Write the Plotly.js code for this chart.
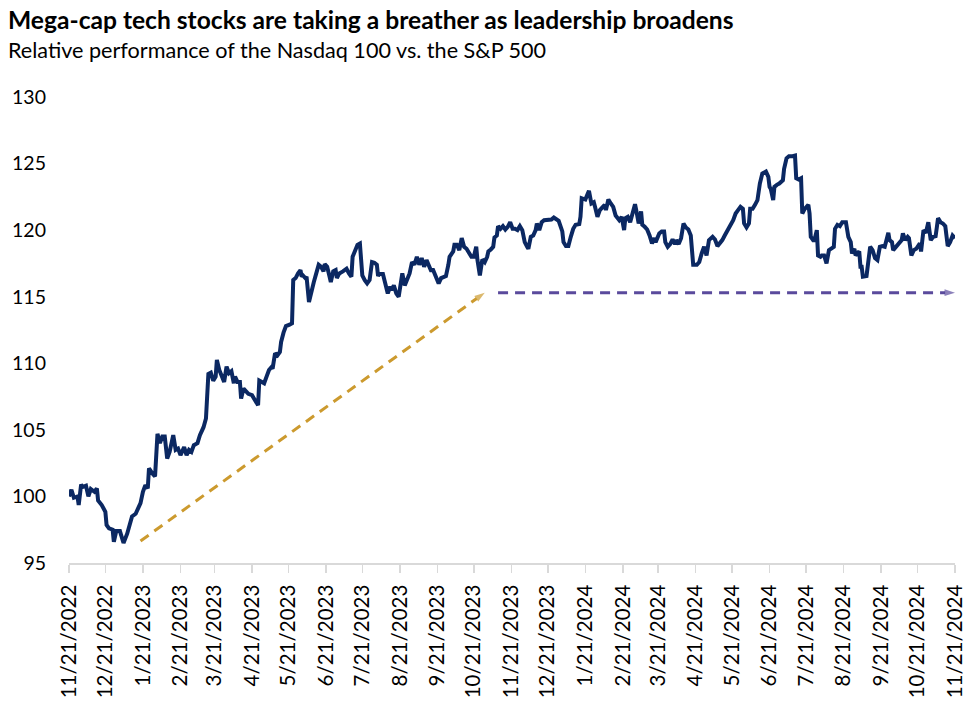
<!DOCTYPE html>
<html>
<head>
<meta charset="utf-8">
<script src="https://cdn.plot.ly/plotly-3.0.1.min.js"></script>
<style>
html,body{margin:0;padding:0;background:#fff;}
#chart{width:972px;height:703px;}
</style>
</head>
<body>
<div id="chart"></div>
<script>
// Relative performance series (Nasdaq 100 / S&P 500, indexed to 100 on 11/21/2022)
const dates = [
 '2022-11-21','2022-11-23','2022-11-25','2022-11-28','2022-11-29','2022-12-01','2022-12-02','2022-12-05','2022-12-07','2022-12-09','2022-12-12','2022-12-14','2022-12-15','2022-12-18',
 '2022-12-21','2022-12-22','2022-12-24','2022-12-27','2022-12-28','2022-12-30','2023-01-02','2023-01-03','2023-01-05','2023-01-08','2023-01-10','2023-01-12','2023-01-15','2023-01-17','2023-01-19',
 '2023-01-21','2023-01-23','2023-01-25','2023-01-26','2023-01-29','2023-01-31','2023-02-02','2023-02-04','2023-02-06','2023-02-08','2023-02-10','2023-02-12','2023-02-15','2023-02-17','2023-02-19',
 '2023-02-21','2023-02-24','2023-02-26','2023-02-28','2023-03-02','2023-03-04','2023-03-07','2023-03-09','2023-03-12','2023-03-14','2023-03-15','2023-03-16','2023-03-18','2023-03-20',
 '2023-03-22','2023-03-23','2023-03-25','2023-03-27','2023-03-29','2023-03-31','2023-04-02','2023-04-04','2023-04-06','2023-04-07','2023-04-09','2023-04-11','2023-04-12','2023-04-14','2023-04-16','2023-04-18',
 '2023-04-21','2023-04-23','2023-04-26','2023-04-27','2023-04-29','2023-05-01','2023-05-03','2023-05-05','2023-05-07','2023-05-08','2023-05-10','2023-05-12','2023-05-14','2023-05-15','2023-05-17','2023-05-19',
 '2023-05-22','2023-05-24','2023-05-25','2023-05-27','2023-05-29','2023-05-31','2023-06-01','2023-06-02','2023-06-04','2023-06-05','2023-06-07','2023-06-09','2023-06-11','2023-06-13','2023-06-15','2023-06-17','2023-06-19','2023-06-20',
 '2023-06-22','2023-06-24','2023-06-25','2023-06-27','2023-06-29','2023-06-30','2023-07-02','2023-07-05','2023-07-08','2023-07-10','2023-07-12','2023-07-13','2023-07-15','2023-07-17','2023-07-19','2023-07-20',
 '2023-07-21','2023-07-23','2023-07-25','2023-07-27','2023-07-29','2023-07-31','2023-08-02','2023-08-03','2023-08-04','2023-08-07','2023-08-09','2023-08-11','2023-08-13','2023-08-14','2023-08-16','2023-08-18','2023-08-20',
 '2023-08-22','2023-08-23','2023-08-25','2023-08-27','2023-08-29','2023-08-31','2023-09-02','2023-09-04','2023-09-06','2023-09-08','2023-09-10','2023-09-12','2023-09-14','2023-09-16','2023-09-17','2023-09-20',
 '2023-09-22','2023-09-24','2023-09-26','2023-09-28','2023-09-30','2023-10-01','2023-10-04','2023-10-05','2023-10-07','2023-10-09','2023-10-11','2023-10-13','2023-10-15','2023-10-17','2023-10-19',
 '2023-10-21','2023-10-23','2023-10-24','2023-10-26','2023-10-28','2023-10-30','2023-11-01','2023-11-02','2023-11-04','2023-11-06','2023-11-07','2023-11-09','2023-11-10','2023-11-12','2023-11-14','2023-11-16','2023-11-18','2023-11-20',
 '2023-11-22','2023-11-24','2023-11-26','2023-11-28','2023-11-30','2023-12-02','2023-12-04','2023-12-05','2023-12-07','2023-12-09','2023-12-11','2023-12-12','2023-12-14','2023-12-16','2023-12-18',
 '2023-12-21','2023-12-24','2023-12-26','2023-12-28','2023-12-30','2024-01-02','2024-01-03','2024-01-05','2024-01-07','2024-01-09','2024-01-11','2024-01-13','2024-01-16','2024-01-17','2024-01-18',
 '2024-01-21','2024-01-22','2024-01-24','2024-01-26','2024-01-28','2024-01-29','2024-01-31','2024-02-02','2024-02-04','2024-02-06','2024-02-07','2024-02-09','2024-02-11','2024-02-13','2024-02-15','2024-02-18','2024-02-20',
 '2024-02-22','2024-02-23','2024-02-25','2024-02-27','2024-02-29','2024-03-02','2024-03-03','2024-03-05','2024-03-07','2024-03-08','2024-03-10','2024-03-12','2024-03-14','2024-03-16','2024-03-18','2024-03-19',
 '2024-03-22','2024-03-24','2024-03-26','2024-03-27','2024-03-29','2024-03-31','2024-04-02','2024-04-04','2024-04-05','2024-04-07','2024-04-09','2024-04-11','2024-04-13','2024-04-15','2024-04-17','2024-04-18','2024-04-19',
 '2024-04-22','2024-04-24','2024-04-26','2024-04-28','2024-04-30','2024-05-02','2024-05-05','2024-05-07','2024-05-09','2024-05-11','2024-05-13','2024-05-15','2024-05-17','2024-05-19',
 '2024-05-22','2024-05-24','2024-05-26','2024-05-28','2024-05-30','2024-05-31','2024-06-02','2024-06-04','2024-06-05','2024-06-07','2024-06-09','2024-06-11','2024-06-13','2024-06-15','2024-06-18','2024-06-20',
 '2024-06-21','2024-06-22','2024-06-24','2024-06-25','2024-06-27','2024-06-29','2024-07-02','2024-07-03','2024-07-05','2024-07-07','2024-07-10','2024-07-12','2024-07-13','2024-07-15','2024-07-17','2024-07-18','2024-07-20',
 '2024-07-23','2024-07-24','2024-07-25','2024-07-27','2024-07-28','2024-07-30','2024-07-31','2024-08-02','2024-08-03','2024-08-05','2024-08-07','2024-08-09','2024-08-11','2024-08-13','2024-08-14','2024-08-16','2024-08-18','2024-08-20',
 '2024-08-23','2024-08-25','2024-08-27','2024-08-28','2024-08-30','2024-08-31','2024-09-03','2024-09-04','2024-09-05','2024-09-06','2024-09-09','2024-09-10','2024-09-12','2024-09-14','2024-09-16','2024-09-18','2024-09-20',
 '2024-09-22','2024-09-24','2024-09-25','2024-09-27','2024-09-28','2024-09-30','2024-10-01','2024-10-03','2024-10-06','2024-10-08','2024-10-09','2024-10-11','2024-10-13','2024-10-14','2024-10-16','2024-10-18','2024-10-20',
 '2024-10-23','2024-10-24','2024-10-25','2024-10-26','2024-10-28','2024-10-30','2024-10-31','2024-11-01','2024-11-03','2024-11-05','2024-11-06','2024-11-07','2024-11-09','2024-11-11','2024-11-13','2024-11-15','2024-11-17','2024-11-18','2024-11-19','2024-11-21'
];
const relPerf = [
 100.0,100.5,99.9,100.0,99.35,100.9,100.7,100.8,100.0,100.55,100.35,100.6,99.7,99.35,
 98.85,97.85,97.6,97.5,96.6,97.4,97.4,97.0,96.5,97.2,97.85,98.5,98.7,99.2,99.5,
 100.35,100.85,100.6,102.1,101.7,101.5,104.7,104.0,104.5,104.5,102.85,103.35,104.6,103.5,103.6,
 103.1,103.7,103.1,103.5,103.35,103.85,104.0,104.6,105.2,105.85,107.5,109.2,109.3,108.7,
 109.0,110.25,109.5,109.1,108.6,109.75,109.25,109.4,108.5,109.0,108.6,108.6,107.35,108.1,107.85,107.7,
 107.6,107.35,106.85,108.7,108.6,108.5,109.0,109.5,109.7,109.6,110.75,110.6,110.85,111.6,112.3,112.8,
 112.9,113.0,116.25,116.4,116.75,117.0,116.5,116.6,116.4,116.5,114.6,115.5,116.1,116.75,117.4,117.25,116.9,117.45,
 117.25,116.5,116.1,116.9,117.0,116.4,116.75,116.9,117.1,116.75,116.5,118.0,118.5,118.9,119.0,117.75,
 116.6,116.25,116.0,116.25,117.6,117.55,117.4,116.55,116.7,116.7,116.1,115.25,115.75,115.5,115.85,115.25,115.0,
 116.1,116.75,115.85,116.4,116.75,117.6,117.4,118.0,117.4,117.9,117.25,117.75,117.4,116.9,117.1,116.5,
 116.0,116.4,116.5,116.55,117.4,118.0,118.4,118.9,118.9,118.5,119.4,118.75,118.6,118.25,118.0,
 118.0,118.75,117.75,116.6,117.8,117.6,118.0,118.4,118.55,118.75,119.45,119.6,120.3,120.1,120.3,120.05,120.25,120.6,
 120.1,120.1,120.0,120.3,120.0,119.1,118.75,118.6,119.5,119.6,120.0,120.5,120.0,120.6,120.75,
 120.75,120.8,120.95,120.8,120.7,119.9,119.1,118.8,118.8,119.5,120.1,120.4,120.45,121.0,122.4,
 122.3,122.5,122.95,122.0,122.1,121.75,121.0,121.5,121.75,121.9,121.5,122.3,122.0,121.75,121.1,120.75,121.0,
 120.0,120.9,121.0,120.6,121.2,121.95,121.5,120.5,121.4,120.4,120.25,120.05,119.6,119.0,119.4,119.1,
 119.75,119.9,119.9,119.1,118.75,118.95,119.3,118.95,119.25,118.95,119.4,120.5,120.2,120.05,119.6,118.5,117.4,
 117.4,117.6,118.25,118.75,118.1,119.25,119.5,119.3,118.8,119.0,119.25,119.6,120.0,120.25,
 120.75,121.25,121.5,121.75,121.6,120.5,120.2,120.5,121.6,121.6,121.9,122.25,123.5,124.25,124.4,124.0,
 123.25,123.1,122.25,123.25,123.4,123.5,123.75,124.6,125.4,125.55,125.55,125.6,123.9,123.8,123.9,121.25,121.6,
 121.9,121.25,119.5,119.25,119.25,120.0,118.1,118.0,118.1,118.1,117.5,118.5,118.6,118.75,120.1,120.4,120.3,120.6,
 120.6,119.5,119.1,118.25,118.6,118.1,118.4,117.25,117.25,116.5,116.55,117.35,118.75,118.5,117.9,117.75,118.75,
 118.8,118.75,119.1,119.8,119.25,119.1,118.5,118.75,119.0,119.25,119.75,119.25,119.5,119.4,118.1,118.5,118.6,
 119.0,118.4,119.5,120.0,119.8,120.6,119.9,119.25,119.5,119.55,120.2,120.9,120.6,120.5,120.3,118.8,119.1,119.4,119.6,119.4
];

// Dashed trend arrows (start, end)
const riseArrowDates = ['2023-01-19', '2023-10-30'];
const riseArrowValues = [96.65, 115.3];
const flatArrowDates = ['2023-11-10', '2024-11-21'];
const flatArrowValues = [115.3, 115.3];

// Axis ticks
const xTickDates = ['2022-11-21','2022-12-21','2023-01-21','2023-02-21','2023-03-21','2023-04-21','2023-05-21','2023-06-21','2023-07-21','2023-08-21','2023-09-21','2023-10-21',
 '2023-11-21','2023-12-21','2024-01-21','2024-02-21','2024-03-21','2024-04-21','2024-05-21','2024-06-21','2024-07-21','2024-08-21','2024-09-21','2024-10-21','2024-11-21'];
const xTickLabels = ['11/21/2022','12/21/2022','1/21/2023','2/21/2023','3/21/2023','4/21/2023','5/21/2023','6/21/2023','7/21/2023','8/21/2023','9/21/2023','10/21/2023',
 '11/21/2023','12/21/2023','1/21/2024','2/21/2024','3/21/2024','4/21/2024','5/21/2024','6/21/2024','7/21/2024','8/21/2024','9/21/2024','10/21/2024','11/21/2024'];
const yTicks = [95, 100, 105, 110, 115, 120, 125, 130];

const titleText = 'Mega-cap tech stocks are taking a breather as leadership broadens';
const subtitleText = 'Relative performance of the Nasdaq 100 vs. the S&P 500';

const NAVY = '#0b2862';
const GOLD = '#cc9a2e';
const PURPLE = '#5a4a9c';
const FONT = 'Lato, "Open Sans", sans-serif';

const traces = [
  {
    x: dates, y: relPerf, type: 'scatter', mode: 'lines',
    line: {color: NAVY, width: 4, shape: 'linear'},
    hoverinfo: 'skip', showlegend: false
  },
  {
    x: riseArrowDates, y: riseArrowValues, type: 'scatter', mode: 'lines+markers',
    line: {color: GOLD, width: 3, dash: '10px,7px'},
    marker: {symbol: ['circle', 'arrow'], size: [0, 11], color: GOLD, angleref: 'previous', line: {width: 0}},
    hoverinfo: 'skip', showlegend: false, cliponaxis: false
  },
  {
    x: flatArrowDates, y: flatArrowValues, type: 'scatter', mode: 'lines+markers',
    line: {color: PURPLE, width: 3, dash: '10px,7px'},
    marker: {symbol: ['circle', 'arrow'], size: [0, 11], color: PURPLE, angleref: 'previous', line: {width: 0}},
    hoverinfo: 'skip', showlegend: false, cliponaxis: false
  }
];

const layout = {
  width: 972, height: 703,
  margin: {l: 68.5, r: 16.7, t: 97, b: 139.5, pad: 0},
  paper_bgcolor: '#ffffff', plot_bgcolor: '#ffffff',
  font: {family: FONT, color: '#000000'},
  showlegend: false,
  xaxis: {
    type: 'date',
    range: ['2022-11-21', '2024-11-21'],
    tickmode: 'array', tickvals: xTickDates, ticktext: xTickLabels,
    tickangle: -90,
    ticks: 'outside', ticklen: 8, tickwidth: 1.5, tickcolor: '#d9d9d9',
    showline: true, linecolor: '#d9d9d9', linewidth: 1.5,
    showgrid: false, zeroline: false,
    ticklabelstandoff: 4,
    tickfont: {family: FONT, size: 20.5, color: '#000000'},
    fixedrange: true
  },
  yaxis: {
    range: [95, 130],
    tickmode: 'array', tickvals: yTicks, ticktext: yTicks.map(String),
    ticks: '', showline: false, showgrid: false, zeroline: false,
    ticklabelstandoff: 22,
    tickfont: {family: FONT, size: 19.5, color: '#000000'},
    fixedrange: true
  },
  annotations: [
    {
      text: '<b>' + titleText + '</b>', xref: 'paper', yref: 'paper',
      x: -0.0716, y: 1.166, xanchor: 'left', yanchor: 'middle', showarrow: false,
      font: {family: FONT, size: 24.6, color: '#000000'}
    },
    {
      text: subtitleText, xref: 'paper', yref: 'paper',
      x: -0.0716, y: 1.100, xanchor: 'left', yanchor: 'middle', showarrow: false,
      font: {family: FONT, size: 21.6, color: '#000000'}
    }
  ]
};

Plotly.newPlot('chart', traces, layout, {staticPlot: true, displayModeBar: false});
</script>
</body>
</html>
